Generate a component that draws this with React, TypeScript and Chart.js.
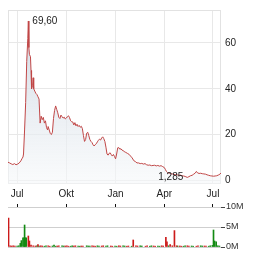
import { useEffect, useRef } from 'react';
import { Chart, registerables } from 'chart.js';

Chart.register(...registerables);

const FONT_FAMILY = '"Liberation Sans", Arial, sans-serif';

// x positions are days counted from 1 July (first "Jul" tick)
const tickDays = [0, 92, 184, 275, 366];
const tickLabels = ['Jul', 'Okt', 'Jan', 'Apr', 'Jul'];

const priceTicks = [0, 20, 40, 60];
const volumeTicks = [0, 5, 10];

const priceDays = [
  -17, -14, -11, -8, -5, -2, 1, 4, 7, 9, 11, 12, 14, 16, 18, 20, 21, 22, 23, 25,
  26, 27, 29, 30, 31, 33, 35, 37, 39, 41, 43, 45, 47, 49, 51, 53, 55, 57, 58, 60,
  62, 64, 66, 68, 70, 72, 74, 76, 78, 80, 82, 84, 86, 88, 90, 92, 94, 96, 98, 100,
  102, 104, 106, 108, 110, 112, 114, 116, 118, 120, 122, 124, 126, 128, 130, 132, 134, 136, 138, 140,
  142, 144, 146, 148, 150, 152, 154, 156, 158, 160, 162, 164, 166, 168, 170, 172, 174, 176, 178, 180,
  182, 184, 186, 188, 190, 192, 194, 196, 198, 200, 203, 206, 209, 212, 215, 218, 221, 224, 227, 230,
  233, 236, 239, 242, 245, 248, 251, 254, 257, 260, 263, 266, 269, 272, 275, 277, 279, 281, 284, 287,
  290, 293, 296, 299, 302, 305, 308, 311, 314, 318, 321, 324, 327, 330, 333, 335, 337, 340, 343, 346,
  349, 352, 355, 358, 361, 364, 367, 370, 373, 376, 379, 381,
];
const prices = [
  7.9, 7.6, 7.2, 6.9, 7.3, 6.8, 7.1, 7.6, 8.5, 9.4, 10.2, 11.5, 22, 34, 52, 62, 69.6, 58, 55, 54,
  48, 40, 41.5, 44.8, 40, 39, 38, 37.5, 36.5, 35.5, 25, 28, 26.5, 27.5, 25, 26, 23, 22, 23.5, 22,
  20.5, 20, 21, 27, 30.5, 32.5, 31, 29.5, 27.5, 27, 28.5, 27.8, 27.2, 27.6, 26.8, 27.2, 27.8, 28.2, 27.4, 26,
  25.6, 25.5, 24.2, 25.2, 23.8, 24.5, 23.5, 24, 23.2, 23.6, 22.6, 19.5, 17, 17.8, 20.6, 21, 19.5, 17.8, 17, 16.5,
  15.5, 15, 15.6, 16, 16.8, 17.5, 18, 17.6, 18.5, 19, 18.2, 17, 14.5, 11.5, 11, 11.8, 12, 11.2, 10.6, 11.3,
  10.4, 9.4, 11.5, 14.2, 14.3, 13.6, 13.8, 13.2, 13, 12.6, 12.2, 11.8, 11.4, 10.6, 9.8, 8.6, 8.2, 7.6, 7.6, 7.3,
  7.4, 7.1, 7.3, 6.8, 6.6, 6.7, 6.4, 6.5, 6.6, 6.3, 6.5, 6.2, 6.4, 6.0, 5.6, 4.8, 3.9, 3.4, 3.2, 2.9,
  2.8, 2.6, 2.5, 2.4, 2.2, 2.3, 2.0, 1.9, 1.7, 1.285, 1.6, 2.0, 2.2, 2.7, 3.2, 3.9, 3.3, 3.0, 3.1, 2.9,
  2.8, 2.7, 2.4, 2.2, 2.0, 1.9, 1.8, 1.9, 2.0, 2.3, 2.7, 3.2,
];

// volume in millions
const downDays = [
  -16, -13, -10, -7, -4, 21, 23, 26, 30, 34, 39, 44, 47, 58, 61, 75, 78, 90, 93, 96,
  106, 109, 120, 123, 140, 143, 146, 158, 161, 175, 178, 190, 193, 205, 208, 217, 222, 225, 240, 243,
  255, 258, 270, 273, 278, 280, 286, 290, 294, 298, 304, 307, 318, 321, 335, 338, 350, 353,
];
const downVolumes = [
  7.2, 0.3, 0.25, 0.3, 0.25, 2.75, 1.5, 0.5, 0.3, 0.25, 0.6, 0.3, 0.25, 0.3, 0.2, 0.25, 0.3, 0.25, 0.3, 0.2,
  0.25, 0.3, 0.25, 0.2, 0.3, 0.25, 0.2, 0.25, 0.3, 0.25, 0.2, 0.3, 0.25, 0.2, 0.25, 1.75, 0.3, 0.25, 0.2, 0.3,
  0.25, 0.2, 0.3, 0.25, 2.4, 1.3, 0.6, 0.3, 4.1, 0.3, 0.25, 0.2, 0.3, 0.25, 0.2, 0.3, 0.25, 0.2,
];
const upDays = [
  0, 3, 6, 8, 11, 13, 14, 15, 17, 37, 41, 51, 54, 66, 69, 72, 84, 87, 100, 103,
  114, 117, 130, 133, 136, 150, 153, 166, 169, 183, 186, 198, 201, 214, 230, 233, 248, 251, 263, 266,
  283, 300, 311, 314, 326, 329, 343, 346, 358, 361, 365, 367, 369, 372, 375, 378,
];
const upVolumes = [
  0.25, 0.3, 0.9, 1.6, 2.3, 2.3, 5.5, 2.3, 2.3, 0.3, 0.25, 0.2, 0.3, 0.25, 0.5, 0.2, 0.3, 0.25, 0.2, 0.3,
  0.25, 0.2, 0.3, 0.25, 0.2, 0.3, 0.25, 0.2, 0.3, 0.25, 0.2, 0.3, 0.25, 0.2, 0.3, 0.25, 0.2, 0.3, 0.25, 0.2,
  0.3, 0.25, 0.2, 0.3, 0.25, 0.2, 0.3, 0.25, 0.2, 0.3, 0.4, 4.25, 1.5, 1.3, 0.3, 0.25,
];

const X_MIN = -17;
const X_MAX = 381;

const fmt = (v: number) =>
  new Intl.NumberFormat('de-DE', { minimumFractionDigits: 2, maximumFractionDigits: 3 }).format(v);

const framePlugin = {
  id: 'frame',
  beforeDatasetsDraw(chart: any) {
    const { ctx, chartArea } = chart;
    ctx.save();
    ctx.strokeStyle = '#e2e2e2';
    ctx.lineWidth = 1;
    const l = Math.round(chartArea.left) + 0.5;
    const t = Math.round(chartArea.top) + 0.5;
    const r = Math.round(chartArea.right) - 0.5;
    const b = Math.round(chartArea.bottom) - 0.5;
    ctx.strokeRect(l, t, r - l, b - t);
    ctx.restore();
  },
};

const extremesPlugin = {
  id: 'extremes',
  afterDatasetsDraw(chart: any) {
    const { ctx, scales } = chart;
    let maxI = 0;
    let minI = 0;
    prices.forEach((p, i) => {
      if (p > prices[maxI]) maxI = i;
      if (p < prices[minI]) minI = i;
    });
    ctx.save();
    ctx.font = `10px ${FONT_FAMILY}`;
    ctx.fillStyle = '#222';
    ctx.textBaseline = 'middle';
    const mx = scales.x.getPixelForValue(priceDays[maxI]);
    const my = scales.y.getPixelForValue(prices[maxI]);
    ctx.textAlign = 'left';
    ctx.fillText(fmt(prices[maxI]), mx + 4, my);
    const nx = scales.x.getPixelForValue(priceDays[minI]);
    const ny = scales.y.getPixelForValue(prices[minI]);
    ctx.textAlign = 'right';
    ctx.fillText(fmt(prices[minI]), nx - 4, ny);
    ctx.restore();
  },
};

export default function App() {
  const priceRef = useRef<HTMLCanvasElement>(null);
  const volRef = useRef<HTMLCanvasElement>(null);

  useEffect(() => {
    const font = { family: FONT_FAMILY, size: 10 };
    const price = new Chart(priceRef.current as HTMLCanvasElement, {
      type: 'line',
      data: {
        datasets: [
          {
            data: priceDays.map((d, i) => ({ x: d, y: prices[i] })),
            borderColor: '#c04646',
            borderWidth: 1,
            pointRadius: 0,
            tension: 0,
            fill: 'start',
            backgroundColor: (context: any) => {
              const { chart } = context;
              const { ctx, chartArea } = chart;
              if (!chartArea) return 'rgba(210,218,226,0.6)';
              const g = ctx.createLinearGradient(0, chartArea.top, 0, chartArea.bottom);
              g.addColorStop(0, 'rgba(196,208,220,0.85)');
              g.addColorStop(1, 'rgba(246,248,250,0.6)');
              return g;
            },
          },
        ],
      },
      options: {
        animation: false,
        responsive: true,
        maintainAspectRatio: false,
        layout: { padding: { left: 8, top: 7, right: 0, bottom: 0 } },
        plugins: { legend: { display: false }, tooltip: { enabled: false } },
        scales: {
          x: {
            type: 'linear',
            min: X_MIN,
            max: X_MAX,
            afterBuildTicks: (s: any) => {
              s.ticks = tickDays.map((v) => ({ value: v }));
            },
            afterFit: (s: any) => {
              s.height = 16;
            },
            ticks: {
              callback: (v: any) => tickLabels[tickDays.indexOf(Number(v))] ?? '',
              padding: 4,
              font,
              color: '#222',
              maxRotation: 0,
              autoSkip: false,
            },
            grid: { color: '#e8e8e8', drawTicks: false },
            border: { display: false },
          },
          y: {
            position: 'right',
            min: -1.6,
            max: 74.4,
            afterBuildTicks: (s: any) => {
              s.ticks = priceTicks.map((v) => ({ value: v }));
            },
            afterFit: (s: any) => {
              s.width = 43;
            },
            ticks: { padding: 4, font, color: '#222' },
            grid: { color: '#e8e8e8', drawTicks: false },
            border: { display: false },
          },
        },
      },
      plugins: [framePlugin, extremesPlugin],
    } as any);

    const vol = new Chart(volRef.current as HTMLCanvasElement, {
      type: 'bar',
      data: {
        datasets: [
          {
            data: downDays.map((d, i) => ({ x: d, y: downVolumes[i] })),
            backgroundColor: '#cc1a1a',
            barThickness: 1,
            grouped: false,
          },
          {
            data: upDays.map((d, i) => ({ x: d, y: upVolumes[i] })),
            backgroundColor: '#138a13',
            barThickness: 1,
            grouped: false,
          },
        ],
      },
      options: {
        animation: false,
        responsive: true,
        maintainAspectRatio: false,
        layout: { padding: { left: 8, top: 4, right: 0, bottom: 8 } },
        plugins: { legend: { display: false }, tooltip: { enabled: false } },
        scales: {
          x: {
            type: 'linear',
            position: 'top',
            min: X_MIN,
            max: X_MAX,
            offset: false,
            afterBuildTicks: (s: any) => {
              s.ticks = tickDays.map((v) => ({ value: v }));
            },
            afterFit: (s: any) => {
              s.height = 3;
            },
            ticks: { display: false },
            grid: {
              drawOnChartArea: false,
              drawTicks: true,
              tickLength: 3,
              tickColor: '#111',
              offset: false,
            },
            border: { display: false },
          },
          y: {
            position: 'right',
            min: 0,
            max: 10,
            afterBuildTicks: (s: any) => {
              s.ticks = volumeTicks.map((v) => ({ value: v }));
            },
            afterFit: (s: any) => {
              s.width = 43;
            },
            ticks: {
              callback: (v: any) => `${v}M`,
              padding: 1,
              font: { family: FONT_FAMILY, size: 9 },
              color: '#333',
            },
            grid: { color: '#cfcfcf', drawTicks: true, tickLength: 4, tickColor: '#444' },
            border: { display: false },
          },
        },
      },
    } as any);

    return () => {
      price.destroy();
      vol.destroy();
    };
  }, []);

  return (
    <div style={{ position: 'absolute', left: 0, top: 0, width: 264, height: 255, background: '#fff' }}>
      <div style={{ position: 'absolute', left: 0, top: 0, width: 264, height: 200 }}>
        <canvas ref={priceRef} />
      </div>
      <div style={{ position: 'absolute', left: 0, top: 200, width: 264, height: 55 }}>
        <canvas ref={volRef} />
      </div>
    </div>
  );
}
